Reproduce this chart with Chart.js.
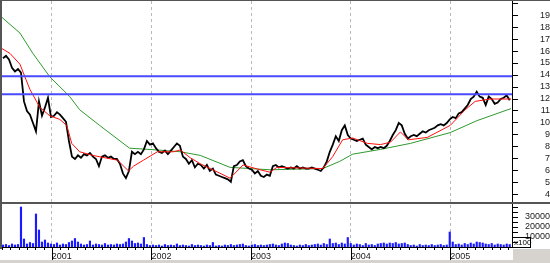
<!DOCTYPE html>
<html>
<head>
<meta charset="utf-8">
<script src="https://cdn.jsdelivr.net/npm/chart.js@4/dist/chart.umd.min.js"></script>
<style>
  html, body { margin: 0; padding: 0; background: #fff; }
  #wrap { position: relative; width: 550px; height: 263px; }
</style>
</head>
<body>
<div id="wrap"><canvas id="chart" width="550" height="263"></canvas></div>
<script>
// trading sessions (one value per ~3 sessions)
const firstDate = 2000.51;
const dateStep = 0.0301;
const closes = [
  15.4, 15.6, 15.3, 14.6, 14.3, 14.5, 14.2, 11.8, 11.0, 10.7,
  10.0, 9.3, 11.8, 10.6, 11.3, 12.1, 10.5, 10.6, 10.9, 10.7,
  10.4, 10.1, 8.5, 7.2, 7.0, 7.3, 7.1, 7.4, 7.3, 7.5,
  7.2, 7.0, 6.4, 7.2, 7.3, 7.1, 7.2, 7.0, 7.0, 6.6,
  5.8, 5.4, 6.0, 7.6, 7.4, 7.6, 7.4, 7.8, 8.5, 8.2,
  8.3, 7.9, 7.6, 7.5, 7.7, 7.4, 7.7, 8.0, 8.3, 8.1,
  7.2, 7.0, 6.6, 6.9, 6.3, 6.6, 6.5, 6.2, 6.5, 6.0,
  6.2, 5.7, 5.6, 5.5, 5.4, 5.3, 5.1, 6.4, 6.5, 6.8,
  6.9, 6.4, 6.2, 6.1, 5.8, 6.0, 5.6, 5.5, 5.7, 5.6,
  6.4, 6.5, 6.3, 6.4, 6.3, 6.2, 6.3, 6.2, 6.4, 6.2,
  6.3, 6.2, 6.2, 6.3, 6.2, 6.1, 6.0, 6.3, 6.8, 7.6,
  8.2, 8.9, 8.5, 9.4, 9.8, 9.0, 8.7, 8.6, 8.5, 8.6,
  8.7, 8.2, 8.0, 7.8, 8.0, 7.9, 8.0, 7.9, 8.1, 8.5,
  9.0, 9.4, 10.0, 9.8, 9.1, 8.7, 8.9, 9.0, 8.9, 9.1,
  9.3, 9.2, 9.4, 9.5, 9.6, 9.8, 9.9, 9.8, 10.0, 10.3,
  10.5, 10.4, 10.8, 10.9, 11.2, 11.5, 12.0, 12.2, 12.6, 12.2,
  12.1, 11.5, 12.2, 12.0, 11.6, 11.7, 12.0, 12.1, 12.3, 11.9
];
const volumes = [
  2000, 2500, 1500, 3000, 2000, 2500, 40000, 8000, 3000, 4500,
  3500, 33000, 17000, 5000, 7000, 4000, 3000, 2500, 4000, 2000,
  3000, 2500, 4500, 6000, 8500, 5000, 3000, 2000, 2500, 6000,
  2000, 3000, 2500, 2000, 3500, 2000, 2500, 2000, 3000, 2500,
  3000, 5000, 8500, 6000, 3500, 4000, 3000, 9500, 2500, 1500,
  2000, 1500, 2000, 1000, 2500, 1500, 2000, 1500, 3000, 1500,
  2000, 1500, 1000, 2500, 1500, 2000, 1500, 1000, 2000, 1500,
  4500, 1000, 1500, 1000, 2000, 1500, 2500, 1500, 2000, 2500,
  3000, 1500, 1000, 2000, 2500, 1500, 2000, 1500, 2000, 2500,
  3000, 2000, 1500, 3000, 4000, 3500, 2000, 1500, 1000, 2000,
  1500, 2500, 1500, 2000, 2500, 3000, 2000, 3500, 2500, 8000,
  3500, 4000, 2500, 4000, 3000, 9500, 3500, 2000, 3000, 2500,
  1500, 3500, 2000, 2500, 1500, 3000, 3500, 4000, 3000, 4000,
  3500, 4500, 3000, 3500, 4000, 2500, 1500, 2000, 1000, 2500,
  1500, 2000, 1500, 2500, 1500, 2000, 2500, 1500, 2000, 15000,
  5000, 2500, 3000, 2000, 3500, 2500, 4000, 3000, 5000, 4500,
  4000, 3000, 2500, 3500, 2000, 3000, 2500, 2000, 3000, 2500
];

// fast moving average (red)
const redDates = [2000.50, 2000.58, 2000.68, 2000.78, 2000.88, 2000.98, 2001.08, 2001.15, 2001.20, 2001.28,
  2001.41, 2001.66, 2001.77, 2001.82, 2001.92, 2002.06, 2002.22, 2002.29, 2002.39, 2002.49,
  2002.79, 2002.92, 2003.09, 2003.19, 2003.26, 2003.72, 2003.82, 2003.92, 2004.02, 2004.17,
  2004.30, 2004.40, 2004.50, 2004.58, 2004.77, 2005.00, 2005.15, 2005.25, 2005.40, 2005.61];
const redValues = [16.2, 15.8, 14.9, 12.8, 11.3, 10.6, 10.3, 9.8, 8.3, 7.6,
  7.3, 6.9, 6.0, 6.4, 6.9, 7.6, 7.6, 7.75, 7.1, 6.6,
  5.4, 6.5, 6.1, 5.9, 6.3, 6.2, 7.2, 8.6, 8.75, 8.3,
  8.2, 8.4, 9.25, 8.6, 8.8, 9.8, 11.1, 11.8, 12.0, 12.0];

// slow moving average (green)
const greenDates = [2000.50, 2000.68, 2000.81, 2000.98, 2001.18, 2001.28, 2001.48, 2001.78, 2002.06, 2002.29,
  2002.49, 2002.79, 2003.19, 2003.72, 2003.89, 2004.02, 2004.30, 2004.60, 2005.00, 2005.27, 2005.61];
const greenValues = [18.8, 17.5, 15.8, 13.85, 12.2, 11.1, 9.8, 7.9, 7.75, 7.6,
  7.3, 6.3, 6.1, 6.2, 6.8, 7.4, 7.8, 8.3, 9.2, 10.2, 11.2];

// horizontal levels (blue)
const levels = [13.9, 12.4];

const years = [2001, 2002, 2003, 2004, 2005];
const priceTicks = [4, 5, 6, 7, 8, 9, 10, 11, 12, 13, 14, 15, 16, 17, 18, 19, 20];
const volumeTicks = [5000, 10000, 15000, 20000, 25000, 30000, 35000, 40000];
const volumeLabels = [10000, 20000, 30000];

const xMin = 2000.5, xMax = 2005.62;
const fontFamily = '"Liberation Sans", Arial, sans-serif';

const sessions = closes.map((c, i) => ({ x: firstDate + i * dateStep, y: c }));
const volumeBars = volumes.map((v, i) => ({ x: firstDate + i * dateStep, y: v }));
const toPoints = (dates, values) => dates.map((d, i) => ({ x: d, y: values[i] }));

// right-hand axes: fixed width, no extra vertical padding
const fitRightAxis = s => {
  s.width = 38;
  s.paddingTop = 0;
  s.paddingBottom = 0;
};

const frame = {
  id: 'frame',
  beforeDraw(chart) {
    const { ctx } = chart;
    ctx.save();
    ctx.fillStyle = '#fff';
    ctx.fillRect(0, 0, chart.width, chart.height);
    ctx.restore();
  },
  afterDraw(chart) {
    const { ctx, chartArea, scales } = chart;
    const x = scales.x, y = scales.y, yv = scales.yv;
    ctx.save();
    // bottom strip and corner
    ctx.fillStyle = '#d6d3ce';
    ctx.fillRect(0, 260, chart.width, 3);
    ctx.fillRect(chartArea.right + 1, chartArea.bottom + 2, chart.width, chart.height);
    // outer frame and panel separator
    ctx.fillStyle = '#555';
    ctx.fillRect(0, 0, chart.width, 1);
    ctx.fillRect(0, 0, 2, chartArea.bottom + 2);
    ctx.fillRect(0, Math.min(y.bottom, yv.bottom) - 1, chart.width, 2);
    // month ticks and year markers on the time axis
    ctx.strokeStyle = '#000';
    ctx.lineWidth = 1;
    ctx.beginPath();
    for (let m = Math.ceil(xMin * 12); m <= xMax * 12; m++) {
      const px = Math.round(x.getPixelForValue(m / 12)) + 0.5;
      const isYear = m % 12 === 0;
      ctx.moveTo(px, chartArea.bottom);
      ctx.lineTo(px, chartArea.bottom + (isYear ? 13 : 3));
    }
    ctx.stroke();
    // x100 box
    const bx = chartArea.right, by = yv.bottom - 10;
    ctx.strokeRect(bx + 0.5, by + 0.5, 18, 10);
    ctx.fillStyle = '#000';
    ctx.font = '8px ' + fontFamily;
    ctx.textBaseline = 'middle';
    ctx.fillText('x100', bx + 2, by + 6);
    ctx.restore();
  }
};

new Chart(document.getElementById('chart'), {
  data: {
    datasets: [
      ...levels.map(l => ({
        type: 'line', yAxisID: 'y', order: 0,
        data: [{ x: xMin, y: l }, { x: xMax, y: l }],
        borderColor: '#4a4aff', borderWidth: 2, pointRadius: 0
      })),
      {
        type: 'line', yAxisID: 'y', order: 1,
        data: toPoints(redDates, redValues),
        borderColor: '#ff1010', borderWidth: 1, pointRadius: 0
      },
      {
        type: 'line', yAxisID: 'y', order: 2,
        data: sessions,
        borderColor: '#000', borderWidth: 1.8, pointRadius: 0
      },
      {
        type: 'line', yAxisID: 'y', order: 3,
        data: toPoints(greenDates, greenValues),
        borderColor: '#2e9a2e', borderWidth: 1, pointRadius: 0
      },
      {
        type: 'bar', yAxisID: 'yv', order: 4,
        data: volumeBars,
        backgroundColor: '#1a1aff', barThickness: 1.5
      }
    ]
  },
  options: {
    responsive: false,
    animation: false,
    devicePixelRatio: 1,
    layout: { autoPadding: false, padding: { top: 1, left: 2, right: 0, bottom: 0 } },
    plugins: { legend: { display: false }, tooltip: { enabled: false } },
    scales: {
      x: {
        type: 'linear', position: 'bottom', min: xMin, max: xMax, offset: false,
        afterBuildTicks: s => { s.ticks = years.map(v => ({ value: v })); },
        afterFit: s => { s.height = 16; },
        ticks: {
          autoSkip: false, maxRotation: 0, align: 'start', padding: 4,
          font: { size: 9, family: fontFamily }, color: '#222',
          callback: v => String(v)
        },
        grid: { color: '#b8b8b8', drawTicks: false, offset: false },
        border: { color: '#000', dash: [3, 3] }
      },
      y: {
        type: 'linear', position: 'right', stack: 'panels', stackWeight: 202,
        min: 3.33, max: 20.17,
        afterBuildTicks: s => { s.ticks = priceTicks.map(v => ({ value: v })); },
        afterFit: fitRightAxis,
        ticks: {
          autoSkip: false, crossAlign: 'far', padding: 13,
          font: { size: 9, family: fontFamily }, color: '#222',
          callback: v => (v <= 19 ? String(v) : '')
        },
        grid: { drawOnChartArea: false, tickLength: 6, color: '#000' },
        border: { color: '#000' }
      },
      yv: {
        type: 'linear', position: 'right', stack: 'panels', stackWeight: 44,
        min: 0, max: 44000,
        afterBuildTicks: s => { s.ticks = volumeTicks.map(v => ({ value: v })); },
        afterFit: fitRightAxis,
        ticks: {
          autoSkip: false, crossAlign: 'far', padding: -4,
          font: { size: 9, family: fontFamily }, color: '#222',
          callback: v => (volumeLabels.includes(v) ? String(v) : '')
        },
        grid: { drawOnChartArea: false, tickLength: 6, color: '#000' },
        border: { color: '#000' }
      }
    }
  },
  plugins: [frame]
});
</script>
</body>
</html>
